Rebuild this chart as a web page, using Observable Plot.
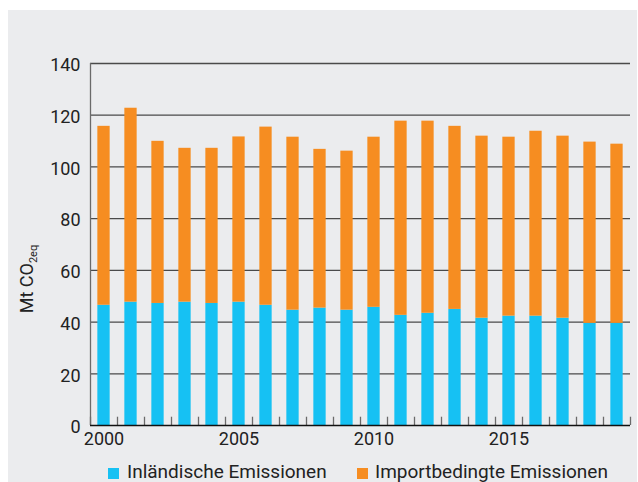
<!DOCTYPE html>
<html>
<head>
<meta charset="utf-8">
<script src="https://cdn.jsdelivr.net/npm/d3@7"></script>
<script src="https://cdn.jsdelivr.net/npm/@observablehq/plot@0.6"></script>
<style>
  html, body { margin: 0; padding: 0; background: #ffffff; }
  #wrap { position: relative; width: 638px; height: 482px; overflow: hidden; font-family: Roboto, "Open Sans", sans-serif; color: #222; }
  #panel { position: absolute; left: 8px; top: 10px; width: 629px; height: 472px; background: #ebecee; }
  #chart { position: absolute; left: 0; top: 0; }
  .leg { position: absolute; font-size: 19px; line-height: 19px; white-space: nowrap; }
  .sw { position: absolute; width: 11px; height: 11px; }
</style>
</head>
<body>
<div id="wrap">
  <div id="panel"></div>
  <div id="chart"></div>
  <div class="sw" style="left:108px; top:468px; background:#16c1f3"></div>
  <div class="leg" style="left:127px; top:462px;">Inländische Emissionen</div>
  <div class="sw" style="left:357px; top:468px; background:#f68d21"></div>
  <div class="leg" style="left:375px; top:462px;">Importbedingte Emissionen</div>
</div>
<script>
const years = [2000,2001,2002,2003,2004,2005,2006,2007,2008,2009,2010,2011,2012,2013,2014,2015,2016,2017,2018,2019];
const inland = [46.5,47.7,47.2,47.7,47.2,47.7,46.5,44.6,45.4,44.6,45.7,42.6,43.4,44.9,41.5,42.3,42.3,41.5,39.5,39.5];
const importe = [69.2,75.0,62.7,59.5,60.0,63.9,68.9,66.9,61.4,61.5,65.8,75.1,74.3,70.8,70.4,69.2,71.5,70.4,70.1,69.3];
const yTicks = [0,20,40,60,80,100,120,140];
const xLabels = [2000,2005,2010,2015];
const colors = {inland: "#16c1f3", importe: "#f68d21"};

const rows = years.map((y, i) => ({year: y, inland: inland[i], importe: importe[i], total: inland[i] + importe[i]}));
const half = 0.228;
const boundaries = [years[0] - 0.5, ...years.map(y => y + 0.5)];

const chart = Plot.plot({
  width: 638,
  height: 460,
  marginLeft: 90,
  marginRight: 8,
  marginTop: 63,
  marginBottom: 35,
  style: {background: "transparent", fontFamily: "Roboto, 'Open Sans', sans-serif", fontSize: "18px", color: "#222"},
  x: {type: "linear", domain: [years[0] - 0.5, years[years.length - 1] + 0.5]},
  y: {domain: [0, 140]},
  marks: [
    Plot.ruleY(yTicks.filter(d => d > 0), {stroke: "#4a4a4a", strokeWidth: 1.3}),
    Plot.ruleX([years[0] - 0.5], {y1: 0, y2: 140, stroke: "#6a6a6a", strokeWidth: 1.3}),
    Plot.ruleX(boundaries, {y1: 0, y2: 3.2, stroke: "#6a6a6a", strokeWidth: 1.3}),
    Plot.rectY(rows, {x1: d => d.year - half, x2: d => d.year + half, y1: 0, y2: "inland", fill: colors.inland}),
    Plot.rectY(rows, {x1: d => d.year - half, x2: d => d.year + half, y1: "inland", y2: "total", fill: colors.importe}),
    Plot.ruleY([0], {stroke: "#111", strokeWidth: 1.5}),
    Plot.axisY({ticks: yTicks, tickSize: 0, tickPadding: 10, label: null, dy: 2, fontSize: 18}),
    Plot.axisX({ticks: xLabels, tickSize: 0, tickPadding: 7, tickFormat: d => String(d), label: null, fontSize: 18})
  ]
});
document.getElementById("chart").appendChild(chart);

// y-axis title with subscript
const ns = "http://www.w3.org/2000/svg";
const t = document.createElementNS(ns, "text");
t.setAttribute("transform", "translate(33,279) rotate(-90)");
t.setAttribute("font-size", "18");
t.setAttribute("fill", "#222");
t.appendChild(document.createTextNode("Mt CO"));
const sub = document.createElementNS(ns, "tspan");
sub.setAttribute("font-size", "11");
sub.setAttribute("dy", "4");
sub.textContent = "2eq";
t.appendChild(sub);
chart.appendChild(t);
</script>
</body>
</html>
